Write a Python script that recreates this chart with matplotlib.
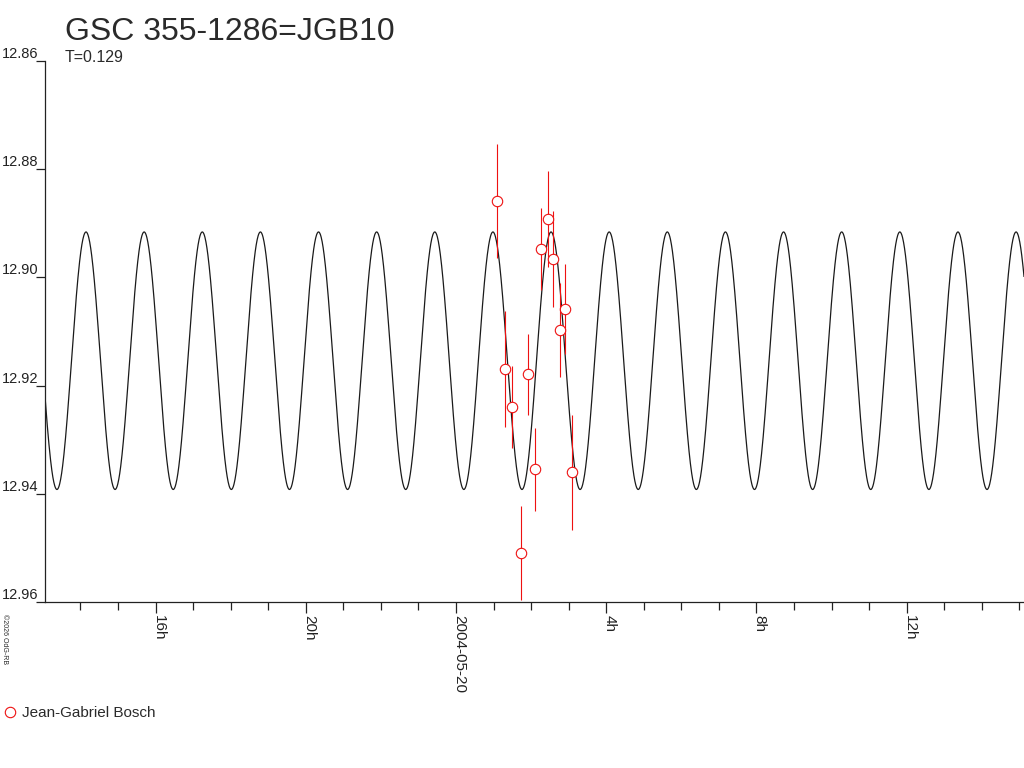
import numpy as np
import matplotlib
matplotlib.use('Agg')
import matplotlib.pyplot as plt
from matplotlib.lines import Line2D
from matplotlib.ticker import FixedLocator
from matplotlib.transforms import ScaledTranslation

plt.rcParams['font.family'] = ['Liberation Sans', 'DejaVu Sans']

# observations: hours from 2004-05-20 00:00, magnitude, error
obs_hours = [1.100, 1.313, 1.499, 1.739, 1.909, 2.112, 2.272, 2.458, 2.591, 2.764, 2.911, 3.097]
obs_mag = [12.8859, 12.9169, 12.9240, 12.9510, 12.9179, 12.9355, 12.8948, 12.8892, 12.8966, 12.9097, 12.9058, 12.9360]
obs_err = [0.0106, 0.0107, 0.0076, 0.0087, 0.0075, 0.0076, 0.0076, 0.0088, 0.0088, 0.0087, 0.0083, 0.0106]
observer = 'Jean-Gabriel Bosch'

# light curve model (period T in days, double wave)
period_days = 0.129
epoch_max_hours = -9.853
mean_mag = 12.9154
amplitude = 0.0238

x_min, x_max = -10.945, 15.126
y_ticks = [12.86, 12.88, 12.90, 12.92, 12.94, 12.96]
x_major = [-8, -4, 0, 4, 8, 12]
x_major_labels = ['16h', '20h', '2004-05-20', '4h', '8h', '12h']
x_minor = list(range(-10, 16))

txt = '#2a2a2a'

fig = plt.figure(figsize=(10.24, 7.68), dpi=100)
ax = fig.add_axes([45 / 1024, 166 / 768, (1024 - 45) / 1024, (602 - 61) / 768])

# model curve
t = np.linspace(x_min, x_max, 3000)
half_period = period_days * 24 / 2
model = mean_mag - amplitude * np.cos(2 * np.pi * (t - epoch_max_hours) / half_period)
ax.plot(t, model, color='#1a1a1a', lw=0.9, zorder=2)

# observations
ax.errorbar(obs_hours, obs_mag, yerr=obs_err, fmt='o', ms=7.5, mfc='white', mec='#ee1111',
            mew=0.8, ecolor='#ee1111', elinewidth=0.8, capsize=0, zorder=3)

ax.set_xlim(x_min, x_max)
ax.set_ylim(12.96, 12.86)

for s in ['top', 'right']:
    ax.spines[s].set_visible(False)
for s in ['left', 'bottom']:
    ax.spines[s].set_color('#222222')
    ax.spines[s].set_linewidth(0.9)

ax.set_yticks(y_ticks)
ax.set_yticklabels(['%.2f' % v for v in y_ticks], va='bottom', fontsize=10.5, color=txt)
ax.tick_params(axis='y', direction='out', length=6.5, width=0.9, pad=-2, colors='#222222')

ax.xaxis.set_major_locator(FixedLocator(x_major))
ax.xaxis.set_minor_locator(FixedLocator(x_minor))
ax.set_xticklabels(x_major_labels, rotation=-90, ha='left', va='top', fontsize=11, color=txt)
ax.tick_params(axis='x', which='major', direction='out', length=8, width=0.9, pad=1.5, colors='#222222')
ax.tick_params(axis='x', which='minor', direction='out', length=5.8, width=0.9, colors='#222222')
shift = ScaledTranslation(-4 / 100, 0, fig.dpi_scale_trans)
for lab in ax.get_xticklabels():
    lab.set_transform(lab.get_transform() + shift)

fig.text(65 / 1024, 1 - 17 / 768, 'GSC 355-1286=JGB10', fontsize=23, color=txt, va='top', ha='left')
fig.text(65 / 1024, 1 - 50 / 768, 'T=0.129', fontsize=11.5, color=txt, va='top', ha='left')
fig.text(1 / 1024, 1 - 614 / 768, '\u00a92026 OdG-RB', fontsize=5, color=txt, rotation=-90,
         ha='left', va='top')

handle = Line2D([], [], marker='o', ls='none', mfc='white', mec='#ee1111', ms=7.5, mew=0.8)
fig.legend(handles=[handle], labels=[observer], loc='center left',
           bbox_to_anchor=(2.5 / 1024, 1 - 713 / 768), frameon=False, handlelength=1,
           handletextpad=0.25, borderaxespad=0, borderpad=0, fontsize=11, labelcolor=txt)

fig.savefig('out.png', dpi=100, facecolor='white')
